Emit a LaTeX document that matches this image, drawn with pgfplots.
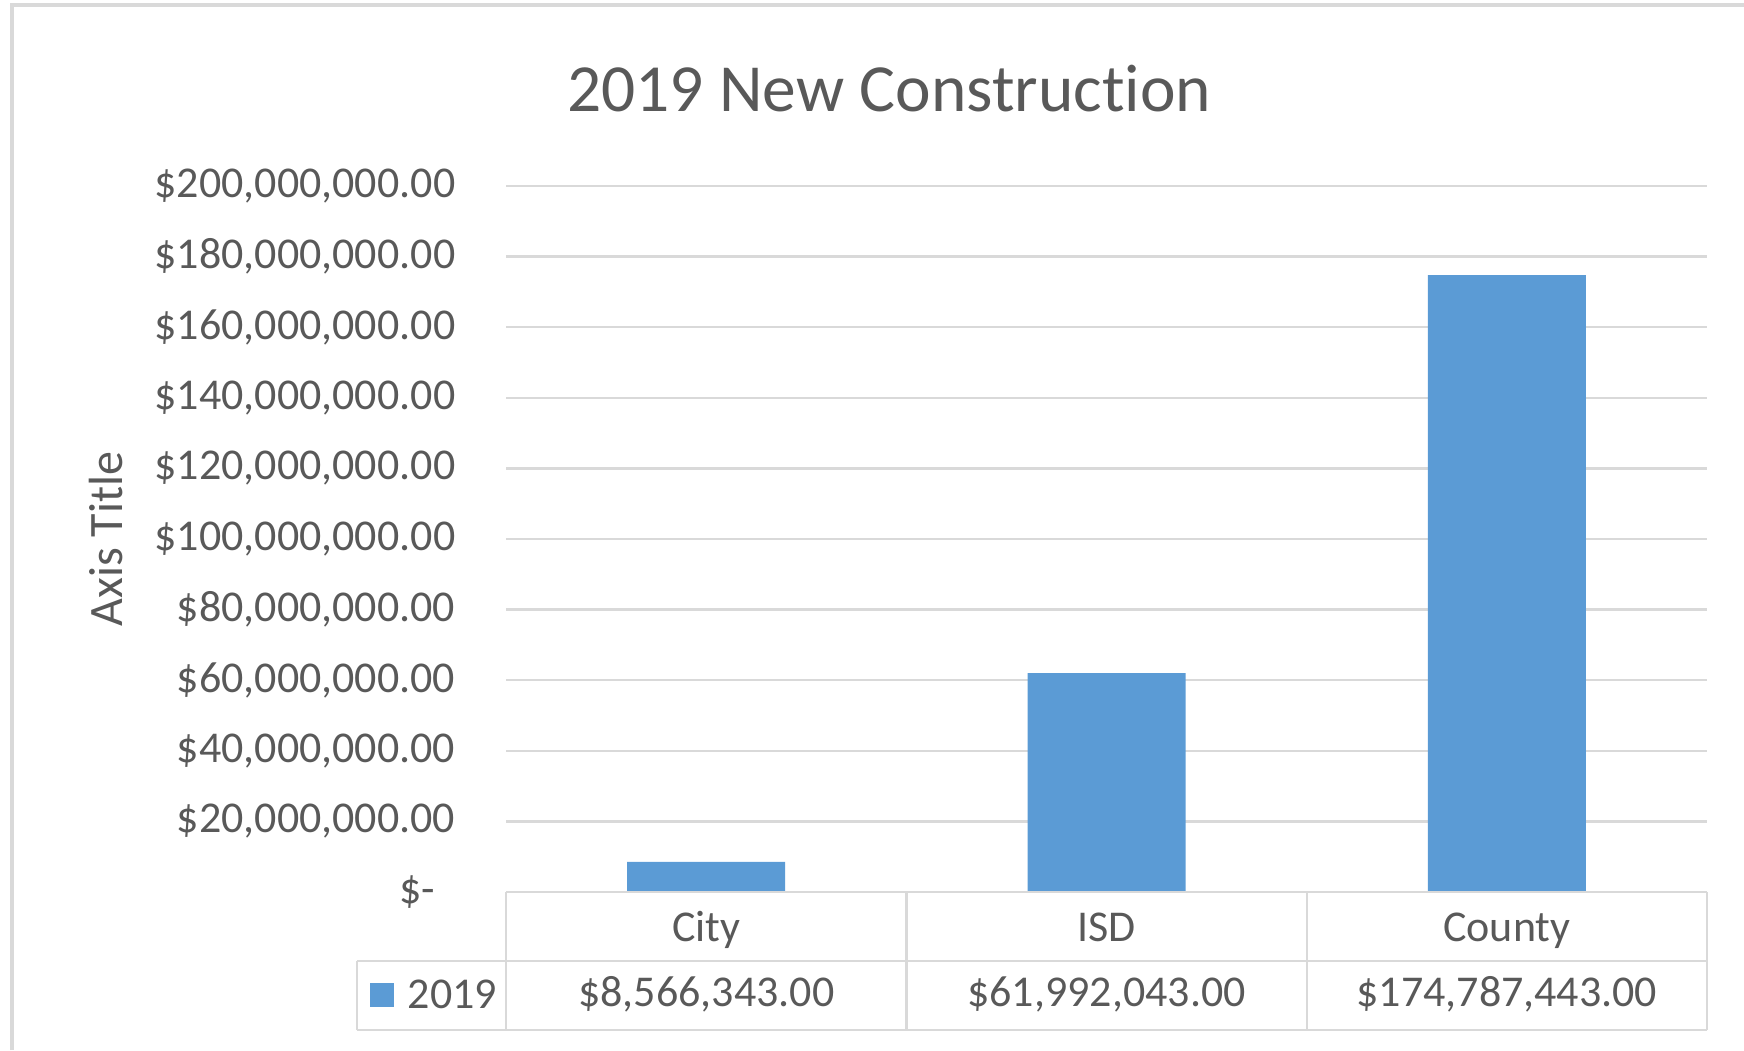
\documentclass[border=0pt]{standalone}
\usepackage{fontspec}
\setmainfont[Ligatures=NoCommon]{Carlito}
\usepackage{pgfplots}
\pgfplotsset{compat=1.18}
\definecolor{barblue}{HTML}{5B9BD5}
\definecolor{txtgray}{HTML}{595959}
\definecolor{linegray}{HTML}{D9D9D9}

\begin{document}
\begin{tikzpicture}[font=\fontsize{11}{13}\selectfont, text=txtgray]
\useasboundingbox (0,0) rectangle (436pt,262.5pt);
% chart frame (cut off at right and bottom)
\draw[linegray, line width=1pt] (3pt,0) -- (3pt,261.25pt) -- (436pt,261.25pt);

\node[font=\fontsize{16.85}{19}\selectfont] at (222.3pt,240.25pt) {2019 New Construction};
\node[rotate=90, font=\fontsize{12}{14}\selectfont] at (26.5pt,127.75pt) {Axis Title};

\begin{axis}[
  at={(126.5pt,39.5pt)}, anchor=south west,
  scale only axis, width=300.25pt, height=176.5pt,
  xmin=0, xmax=3,
  ymin=0, ymax=200000000,
  scaled y ticks=false,
  ytick={0,20000000,40000000,60000000,80000000,100000000,120000000,140000000,160000000,180000000,200000000},
  yticklabels={{\$-\hspace*{5pt}\mbox{}},{\$20,000,000.00},{\$40,000,000.00},{\$60,000,000.00},{\$80,000,000.00},
    {\$100,000,000.00},{\$120,000,000.00},{\$140,000,000.00},{\$160,000,000.00},{\$180,000,000.00},{\$200,000,000.00}},
  yticklabel style={anchor=east, inner sep=0pt, xshift=-12.5pt, text=txtgray},
  xtick={0.5,1.5,2.5},
  xticklabels={City,ISD,County},
  xticklabel style={anchor=base, inner sep=0pt, yshift=-12.4pt, text=txtgray},
  ymajorgrids,
  major grid style={linegray, line width=0.6pt},
  axis line style={draw=none},
  tick style={draw=none},
  clip=false,
]
\addplot[ybar, bar width=39.5pt, fill=barblue, draw=none] coordinates {
  (0.5,8566343) (1.5,61992043) (2.5,174787443)
};
\end{axis}

% data table
\begin{scope}[linegray, line width=0.6pt]
\draw (126.5pt,39.5pt) -- (426.75pt,39.5pt);
\draw (89.25pt,22.25pt) -- (426.75pt,22.25pt);
\draw (89.25pt,5pt) -- (426.75pt,5pt);
\draw (89.25pt,5pt) -- (89.25pt,22.25pt);
\foreach \xx in {126.5,226.6,326.7,426.75} \draw (\xx pt,5pt) -- (\xx pt,39.5pt);
\end{scope}
\fill[barblue] (92.5pt,10.75pt) rectangle (98.5pt,16.75pt);
\begin{scope}[font=\fontsize{11}{13}\selectfont]
\node at (113.1pt,14pt) {2019};
\node at (176.55pt,14pt) {\$8,566,343.00};
\node at (276.6pt,14pt) {\$61,992,043.00};
\node at (376.7pt,14pt) {\$174,787,443.00};
\end{scope}
\end{tikzpicture}
\end{document}
